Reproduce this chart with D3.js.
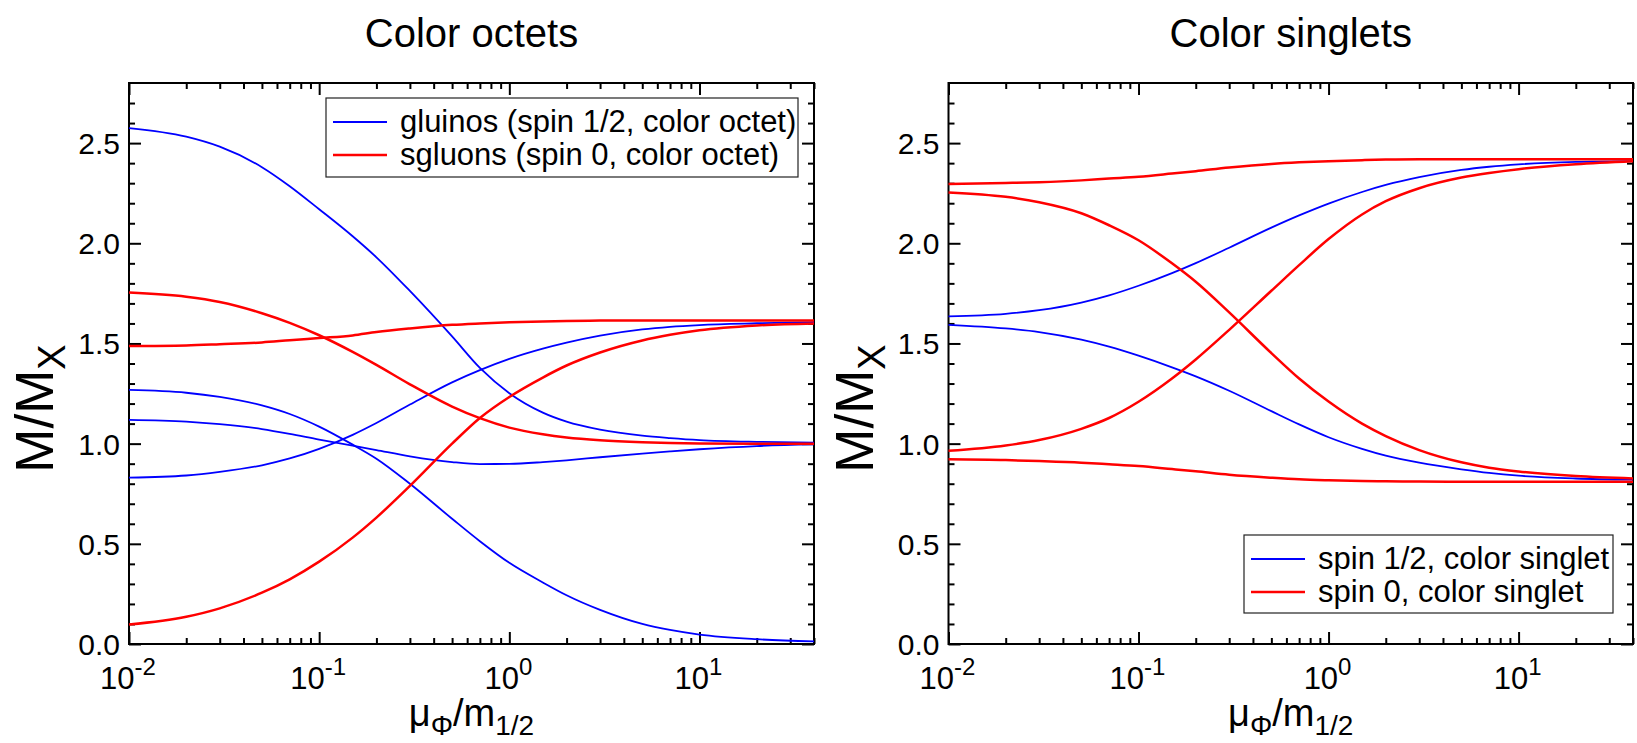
<!DOCTYPE html>
<html>
<head>
<meta charset="utf-8">
<script src="https://cdn.jsdelivr.net/npm/d3@7"></script>
<style>
  body { margin: 0; background: #fff; }
  svg { display: block; }
  text { font-family: 'Liberation Sans', Arial, sans-serif; fill: #000; }
</style>
</head>
<body>
<div class="canvas"></div>
<script>
// x values (mu_Phi / m_1/2) where the curves were read
const muRatio = [0.01, 0.02, 0.03, 0.05, 0.07, 0.1, 0.15, 0.2, 0.3, 0.5, 0.7, 1, 1.5, 2, 3, 5, 7, 10, 20, 40];

// color octets, spin 1/2 (blue)
const gluinoA = [2.575, 2.532, 2.482, 2.38, 2.285, 2.17, 2.035, 1.93, 1.762, 1.535, 1.378, 1.252, 1.155, 1.11, 1.07, 1.04, 1.028, 1.018, 1.009, 1.005];
const gluinoB = [1.268, 1.254, 1.233, 1.191, 1.148, 1.085, 0.995, 0.925, 0.80, 0.625, 0.513, 0.405, 0.307, 0.243, 0.17, 0.10, 0.07, 0.047, 0.024, 0.013];
const gluinoC = [1.119, 1.11, 1.097, 1.073, 1.049, 1.02, 0.99, 0.968, 0.937, 0.908, 0.898, 0.899, 0.908, 0.917, 0.932, 0.95, 0.961, 0.972, 0.988, 0.996];
const gluinoD = [0.83, 0.841, 0.859, 0.892, 0.926, 0.974, 1.044, 1.103, 1.195, 1.306, 1.367, 1.423, 1.474, 1.504, 1.539, 1.57, 1.583, 1.592, 1.601, 1.607];
// color octets, spin 0 (red)
const sgluonA = [1.754, 1.733, 1.707, 1.651, 1.603, 1.541, 1.458, 1.393, 1.296, 1.185, 1.127, 1.08, 1.047, 1.031, 1.017, 1.007, 1.003, 1.001, 1.0, 1.0];
const sgluonB = [1.487, 1.49, 1.496, 1.505, 1.516, 1.527, 1.54, 1.557, 1.575, 1.593, 1.60, 1.606, 1.61, 1.612, 1.614, 1.615, 1.615, 1.615, 1.615, 1.615];
const sgluonC = [0.097, 0.136, 0.178, 0.256, 0.323, 0.411, 0.531, 0.631, 0.789, 1.0, 1.128, 1.233, 1.33, 1.39, 1.455, 1.515, 1.543, 1.566, 1.59, 1.60];

// color singlets, spin 1/2 (blue)
const singletFermionA = [1.635, 1.648, 1.666, 1.704, 1.74, 1.788, 1.851, 1.901, 1.978, 2.078, 2.139, 2.198, 2.256, 2.291, 2.33, 2.366, 2.382, 2.394, 2.406, 2.41];
const singletFermionB = [1.593, 1.575, 1.557, 1.519, 1.484, 1.439, 1.381, 1.336, 1.264, 1.162, 1.096, 1.032, 0.974, 0.94, 0.905, 0.872, 0.854, 0.84, 0.826, 0.82];
// color singlets, spin 0 (red)
const singletScalarA = [2.296, 2.301, 2.305, 2.314, 2.323, 2.332, 2.348, 2.36, 2.378, 2.396, 2.404, 2.41, 2.415, 2.418, 2.42, 2.42, 2.42, 2.42, 2.42, 2.42];
const singletScalarB = [2.254, 2.232, 2.205, 2.15, 2.09, 2.015, 1.90, 1.808, 1.655, 1.452, 1.325, 1.21, 1.10, 1.038, 0.968, 0.907, 0.88, 0.861, 0.838, 0.826];
const singletScalarC = [0.964, 0.991, 1.018, 1.074, 1.128, 1.209, 1.325, 1.42, 1.568, 1.763, 1.891, 2.021, 2.144, 2.21, 2.275, 2.328, 2.351, 2.37, 2.394, 2.409];
const singletScalarD = [0.922, 0.918, 0.913, 0.905, 0.897, 0.888, 0.873, 0.862, 0.845, 0.83, 0.822, 0.817, 0.813, 0.812, 0.811, 0.81, 0.81, 0.81, 0.81, 0.81];

// axes
const xDomain = [0.01, 40];
const yDomain = [0, 2.8];
const xMajorTicks = [0.01, 0.1, 1, 10];
const xTickExponents = ["-2", "-1", "0", "1"];
const yMajorTicks = [0, 0.5, 1, 1.5, 2, 2.5];

const titles = ["Color octets", "Color singlets"];
const octetLegend = ["gluinos (spin 1/2, color octet)", "sgluons (spin 0, color octet)"];
const singletLegend = ["spin 1/2, color singlet", "spin 0, color singlet"];

const blue = "#0000ff", red = "#ff0000";
const plotTop = 83, plotBottom = 644;

const svg = d3.select('.canvas')
  .append('svg')
    .attr('width', 1637)
    .attr('height', 743)
    .style('background-color', 'white');

// minor tick values
const xMinor = [];
[0.01, 0.1, 1, 10].forEach(dec => {
  for (let k = 2; k <= 9; k++) {
    const v = dec * k;
    if (v <= xDomain[1]) xMinor.push(v);
  }
});
const yMinor = d3.range(1, 28).map(i => i / 10).filter(v => Math.abs(v * 2 - Math.round(v * 2)) > 1e-6);

function drawPanel(p) {
  const x = d3.scaleLog().domain(xDomain).range([p.left, p.right]);
  const y = d3.scaleLinear().domain(yDomain).range([plotBottom, plotTop]);
  const g = svg.append('g');

  // ticks on all four sides, pointing inward
  const sides = [
    [d3.axisBottom(x), `translate(0,${plotBottom})`, xMajorTicks, xMinor],
    [d3.axisTop(x), `translate(0,${plotTop})`, xMajorTicks, xMinor],
    [d3.axisLeft(y), `translate(${p.left},0)`, yMajorTicks, yMinor],
    [d3.axisRight(y), `translate(${p.right},0)`, yMajorTicks, yMinor]
  ];
  sides.forEach(([axis, tr, major, minor]) => {
    [[major, -12], [minor, -6]].forEach(([vals, size]) => {
      const a = g.append('g')
        .attr('transform', tr)
        .call(axis.tickValues(vals).tickSize(size).tickSizeOuter(0).tickFormat(''));
      a.select('.domain').remove();
      a.selectAll('line').attr('stroke', '#000').attr('stroke-width', 2);
    });
  });

  // y labels
  g.selectAll('.ylab')
    .data(yMajorTicks)
    .enter().append('text')
      .attr('x', p.left - 9)
      .attr('y', d => y(d) + 11)
      .attr('text-anchor', 'end')
      .style('font-size', '30px')
      .text(d => d3.format('.1f')(d));

  // x labels 10^n
  const xl = g.selectAll('.xlab')
    .data(xMajorTicks)
    .enter().append('text')
      .attr('x', d => x(d) - 1)
      .attr('y', 689)
      .attr('text-anchor', 'middle')
      .style('font-size', '31px');
  xl.append('tspan').text('10');
  xl.append('tspan')
    .attr('dy', -14)
    .style('font-size', '24px')
    .text((d, i) => xTickExponents[i]);

  // frame
  g.append('rect')
    .attr('x', p.left).attr('y', plotTop)
    .attr('width', p.right - p.left).attr('height', plotBottom - plotTop)
    .attr('fill', 'none').attr('stroke', '#000').attr('stroke-width', 2);

  // curves
  const line = d3.line()
    .x((d, i) => x(muRatio[i]))
    .y(d => y(d))
    .curve(d3.curveMonotoneX);
  p.series.forEach(s => {
    g.append('path')
      .attr('d', line(s.values))
      .attr('fill', 'none')
      .attr('stroke', s.color)
      .attr('stroke-width', s.color === red ? 2.5 : 1.8);
  });

  // title
  g.append('text')
    .attr('x', (p.left + p.right) / 2)
    .attr('y', 47)
    .attr('text-anchor', 'middle')
    .style('font-size', '40px')
    .text(p.title);

  // x axis title
  const xt = g.append('text')
    .attr('x', (p.left + p.right) / 2)
    .attr('y', 726)
    .attr('text-anchor', 'middle')
    .style('font-size', '38px');
  xt.append('tspan').text('\u03bc');
  xt.append('tspan').attr('dy', 9).style('font-size', '28px').text('\u03a6');
  xt.append('tspan').attr('dy', -9).text('/m');
  xt.append('tspan').attr('dy', 9).style('font-size', '28px').text('1/2');

  // y axis title
  const yt = g.append('text')
    .attr('transform', `translate(${p.left - 76},${(plotTop + plotBottom) / 2 + 45}) rotate(-90)`)
    .attr('text-anchor', 'middle')
    .style('font-size', '53px');
  yt.append('tspan').text('M/M');
  yt.append('tspan').attr('dy', 12).style('font-size', '38px').text('X');

  // legend
  const L = p.legend;
  const lg = g.append('g');
  lg.append('rect')
    .attr('x', L.x).attr('y', L.y).attr('width', L.w).attr('height', L.h)
    .attr('fill', 'white').attr('stroke', '#222').attr('stroke-width', 1.2);
  L.labels.forEach((lab, i) => {
    const cy = L.y + 24 + i * 33;
    lg.append('line')
      .attr('x1', L.x + 7).attr('x2', L.x + 61)
      .attr('y1', cy).attr('y2', cy)
      .attr('stroke', i === 0 ? blue : red)
      .attr('stroke-width', i === 0 ? 1.8 : 2.5);
    lg.append('text')
      .attr('x', L.x + 74)
      .attr('y', cy + 10)
      .style('font-size', '31px')
      .text(lab);
  });
}

drawPanel({
  left: 129, right: 814, title: titles[0],
  series: [
    {values: gluinoA, color: blue}, {values: gluinoB, color: blue},
    {values: gluinoC, color: blue}, {values: gluinoD, color: blue},
    {values: sgluonA, color: red}, {values: sgluonB, color: red}, {values: sgluonC, color: red}
  ],
  legend: {x: 326, y: 98, w: 472, h: 79, labels: octetLegend}
});

drawPanel({
  left: 948.5, right: 1633, title: titles[1],
  series: [
    {values: singletFermionA, color: blue}, {values: singletFermionB, color: blue},
    {values: singletScalarA, color: red}, {values: singletScalarB, color: red},
    {values: singletScalarC, color: red}, {values: singletScalarD, color: red}
  ],
  legend: {x: 1244, y: 535, w: 369, h: 78, labels: singletLegend}
});
</script>
</body>
</html>
